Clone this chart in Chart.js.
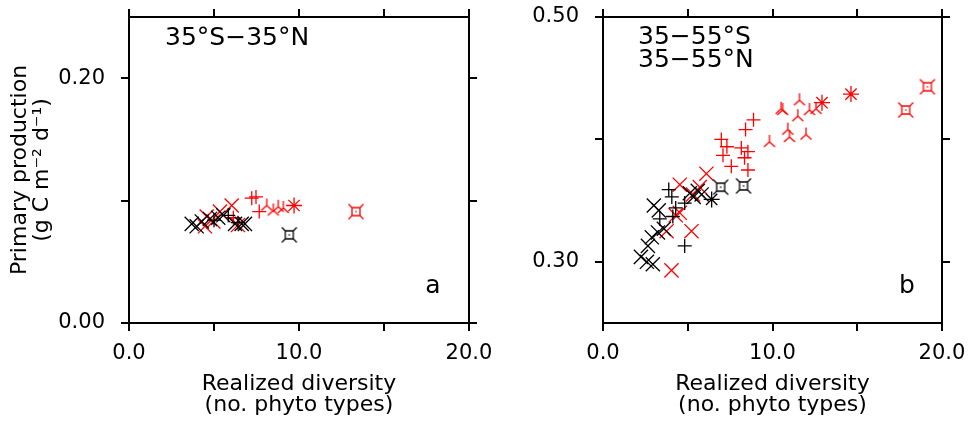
<!DOCTYPE html>
<html>
<head>
<meta charset="utf-8">
<title>Primary production vs realized diversity</title>
<script src="https://cdn.jsdelivr.net/npm/chart.js@4"></script>
<style>
	body {margin: 0; background: #fff; width: 971px; height: 424px; overflow: hidden; position: relative}
	canvas {position: absolute; top: 0}
	#low {left: 0}
	#mid {left: 485px}
</style>
</head>
<body>
<canvas id="low" width="505" height="424"></canvas>
<canvas id="mid" width="486" height="424"></canvas>
<script>
// [realized diversity, primary production], 35°S-35°N
const lowBlackCross = [[3.69, 0.081], [3.98, 0.079], [4.28, 0.083], [4.76, 0.085], [5.25, 0.086], [5.55, 0.088], [6.24, 0.081], [6.63, 0.081], [6.82, 0.081]]
const lowBlackPlus = [[5.0, 0.084], [5.84, 0.088], [6.41, 0.082]]
const lowBlackBox = [[9.43, 0.072]]
const lowRedCross = [[4.47, 0.079], [4.57, 0.087], [4.96, 0.083], [5.35, 0.091], [6.04, 0.096], [6.41, 0.080]]
const lowRedPlus = [[6.14, 0.086], [7.22, 0.102], [7.47, 0.103], [7.66, 0.091]]
const lowRedTri = [[8.10, 0.096], [8.49, 0.092], [8.78, 0.095], [9.08, 0.094]]
const lowRedStar = [[9.71, 0.096]]
const lowRedBox = [[13.35, 0.091]]

// 35-55°S and 35-55°N
const midBlackCross = [[2.24, 0.304], [2.59, 0.300], [2.94, 0.298], [2.65, 0.313], [2.88, 0.320], [3.24, 0.324], [3.59, 0.327], [3.00, 0.346], [3.29, 0.342], [5.12, 0.356], [5.35, 0.353], [5.59, 0.358], [5.82, 0.355]]
const midBlackPlus = [[3.88, 0.359], [4.06, 0.353], [4.29, 0.344], [3.35, 0.335], [4.82, 0.348], [4.82, 0.313], [4.12, 0.337]]
const midBlackStar = [[6.41, 0.351]]
const midBlackBox = [[6.94, 0.361], [8.29, 0.362]]
const midRedCross = [[6.10, 0.372], [4.53, 0.363], [5.22, 0.325], [3.75, 0.325], [4.04, 0.293], [4.53, 0.340], [5.71, 0.361], [5.31, 0.355], [4.29, 0.338]]
const midRedPlus = [[6.98, 0.400], [7.31, 0.394], [7.08, 0.387], [8.16, 0.393], [8.55, 0.390], [8.35, 0.385], [7.57, 0.378], [8.55, 0.375], [8.88, 0.416], [8.41, 0.408]]
const midRedTri = [[12.57, 0.425], [12.18, 0.424], [11.59, 0.432], [10.51, 0.425], [10.60, 0.424], [11.49, 0.419], [11.98, 0.404], [10.90, 0.408], [11.00, 0.402], [9.82, 0.398]]
const midRedStar = [[14.63, 0.437], [12.92, 0.430]]
const midRedBox = [[19.14, 0.443], [17.86, 0.424]]

const diversityTicks = [0, 5, 10, 15, 20]
const lowTicks = [0, 0.1, 0.2]
const midTicks = [0.3, 0.4, 0.5]

const RED = '#ff0000'
const BLACK = '#000000'
const FONT = '"DejaVu Sans", sans-serif'

Chart.defaults.font.family = FONT
Chart.defaults.color = BLACK

function markerCanvas(color, draw) {
	const size = 20
	const c = document.createElement('canvas')
	c.width = size
	c.height = size
	const g = c.getContext('2d')
	g.strokeStyle = color
	g.fillStyle = color
	g.lineWidth = 1.3
	g.translate(size / 2, size / 2)
	g.beginPath()
	draw(g)
	g.stroke()
	return c
}

function tri(g) {
	g.moveTo(0, 0); g.lineTo(0, -7)
	g.moveTo(0, 0); g.lineTo(-5.5, 5)
	g.moveTo(0, 0); g.lineTo(5.5, 5)
}

function box(g) {
	g.rect(-4, -4, 8, 8)
	for (const [sx, sy] of [[-1, -1], [1, -1], [1, 1], [-1, 1]]) {
		g.moveTo(sx * 4, sy * 4)
		g.lineTo(sx * 7.5, sy * 7.5)
	}
	g.fillRect(-0.7, -0.7, 1.4, 1.4)
}

function series(pairs, color, style, radius) {
	return {
		data: pairs.map(([x, y]) => ({x, y})),
		pointStyle: style,
		pointRadius: radius,
		pointHoverRadius: radius,
		borderColor: color,
		backgroundColor: color,
		pointBorderWidth: 1.3,
		showLine: false,
	}
}

function tickAxis(position, min, max, values, size, format, padding) {
	const vertical = position == 'left' || position == 'right'
	const ticks = {
		display: Boolean(format),
		autoSkip: false,
		maxRotation: 0,
		padding,
		color: BLACK,
		font: {size: 21},
	}
	if (format) ticks.callback = format
	return {
		type: 'linear',
		position,
		min,
		max,
		afterBuildTicks: scale => { scale.ticks = values.map(value => ({value})) },
		afterFit: scale => {
			if (vertical) scale.width = size
			else scale.height = size
			// fixed box sizes, so label overflow must not shrink the plot
			scale.paddingTop = scale.paddingBottom = scale.paddingLeft = scale.paddingRight = 0
		},
		border: {display: true, color: BLACK, width: 2},
		grid: {drawOnChartArea: false, drawTicks: true, tickLength: 8, color: BLACK, lineWidth: 2},
		ticks,
	}
}

function notes(list) {
	return {
		id: 'notes',
		afterDraw(chart) {
			const {ctx, chartArea} = chart
			ctx.save()
			ctx.fillStyle = BLACK
			ctx.font = `25px ${FONT}`
			ctx.textBaseline = 'middle'
			for (const note of list) {
				ctx.textAlign = note.align
				ctx.fillText(note.text, chartArea.left + note.dx, chartArea.top + note.dy)
			}
			ctx.restore()
		},
	}
}

const diversityLabel = value => value % 10 == 0 ? value.toFixed(1) : ''
const productionLabel = value => Math.round(value * 10) % 2 == 0 ? value.toFixed(2) : ''
const midLabel = value => Math.round(value * 10) % 2 == 1 ? value.toFixed(2) : ''

function xAxis() {
	const axis = tickAxis('bottom', 0, 20, diversityTicks, 101, diversityLabel, 10)
	axis.title = {
		display: true,
		text: ['Realized diversity', '(no. phyto types)'],
		font: {size: 22, lineHeight: 0.95},
		padding: {top: 0, bottom: 8.5},
		color: BLACK,
	}
	return axis
}

function createPanel(id, datasets, yMin, yMax, yTicks, yLabel, leftWidth, rightWidth, noteList, yTitle) {
	const y = tickAxis('left', yMin, yMax, yTicks, leftWidth, yLabel, 16)
	if (yTitle) {
		y.title = {
			display: true,
			text: yTitle,
			font: {size: 22, lineHeight: 1},
			padding: {top: 9, bottom: 0},
			color: BLACK,
		}
	}
	return new Chart(document.getElementById(id), {
		type: 'scatter',
		data: {datasets},
		options: {
			responsive: false,
			animation: false,
			layout: {padding: 0},
			scales: {
				x: xAxis(),
				x2: tickAxis('top', 0, 20, diversityTicks, 17, null, 0),
				y,
				y2: tickAxis('right', yMin, yMax, yTicks, rightWidth, null, 0),
			},
			plugins: {
				legend: {display: false},
				tooltip: {enabled: false},
			},
		},
		plugins: [notes(noteList)],
	})
}

const redTri = markerCanvas(RED, tri)
const redBox = markerCanvas(RED, box)
const blackBox = markerCanvas(BLACK, box)

createPanel('low', [
	series(lowBlackCross, BLACK, 'crossRot', 10),
	series(lowBlackPlus, BLACK, 'cross', 7),
	series(lowBlackBox, BLACK, blackBox, 10),
	series(lowRedCross, RED, 'crossRot', 10),
	series(lowRedPlus, RED, 'cross', 7),
	series(lowRedTri, RED, redTri, 10),
	series(lowRedStar, RED, 'star', 8),
	series(lowRedBox, RED, redBox, 10),
], 0, 0.25, lowTicks, productionLabel, 129, 36, [
	{text: '35°S−35°N', dx: 36, dy: 21, align: 'left'},
	{text: 'a', dx: 304, dy: 269, align: 'center'},
], ['Primary production', '(g C m⁻² d⁻¹)'])

createPanel('mid', [
	series(midBlackCross, BLACK, 'crossRot', 10),
	series(midBlackPlus, BLACK, 'cross', 7),
	series(midBlackStar, BLACK, 'star', 8),
	series(midBlackBox, BLACK, blackBox, 10),
	series(midRedCross, RED, 'crossRot', 10),
	series(midRedPlus, RED, 'cross', 7),
	series(midRedTri, RED, redTri, 10),
	series(midRedStar, RED, 'star', 8),
	series(midRedBox, RED, redBox, 10),
], 0.25, 0.5, midTicks, midLabel, 118, 29, [
	{text: '35−55°S', dx: 35, dy: 20, align: 'left'},
	{text: '35−55°N', dx: 35, dy: 43, align: 'left'},
	{text: 'b', dx: 304, dy: 269, align: 'center'},
], null)
</script>
</body>
</html>
